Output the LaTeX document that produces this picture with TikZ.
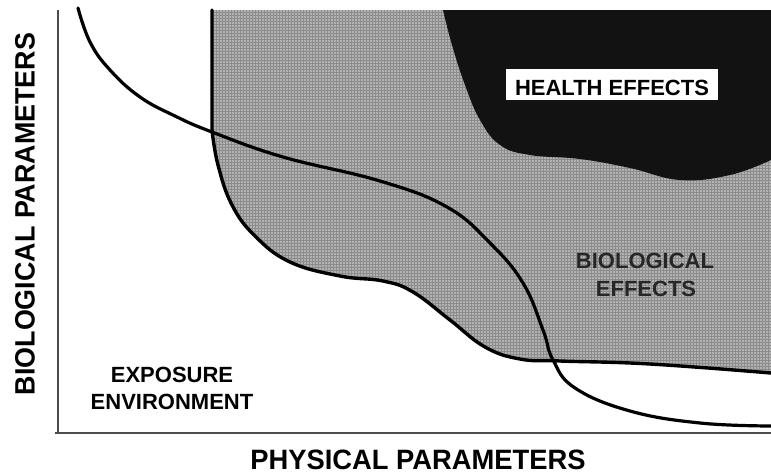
\documentclass[tikz,border=0pt]{standalone}
\usepackage{fontspec}
\setmainfont{Liberation Sans}
\usetikzlibrary{patterns}
\begin{document}
\begin{tikzpicture}[x=1pt,y=-1pt,
  axisline/.style={draw=black!70,line width=1.2pt},
  bioregion/.style={fill=black!30,postaction={pattern=grid,pattern color=black!45}},
  healthregion/.style={fill=black!93},
  edgeline/.style={draw=black,line width=3.4pt,line join=round,line cap=round},
  curveline/.style={draw=black,line width=3.2pt,line cap=round},
  lbl/.style={inner sep=0pt,font=\bfseries\fontsize{22}{24}\selectfont,text=black},
  axislbl/.style={inner sep=0pt,font=\bfseries\fontsize{28}{30}\selectfont,text=black}]
\useasboundingbox[fill=white] (0,0) rectangle (771,474);

% biological effects region
\path[bioregion] (212,10) -- plot[smooth,tension=0.7] coordinates {(212,130) (218,165) (232,205) (255,236) (290,262) (340,276) (383,281) (413,292) (450,320) (485,347) (520,359) (560,361) (650,364) (771,373)} -- (771,10) -- cycle;
% health effects region
\path[healthregion] (443,10) -- plot[smooth,tension=0.7] coordinates {(443,10) (452,45) (465,85) (480,120) (500,145) (530,155) (580,159) (630,168) (680,180) (730,175) (771,160)} -- (771,10) -- cycle;
% boundary of biological effects
\draw[edgeline] (212,10) -- plot[smooth,tension=0.7] coordinates {(212,130) (218,165) (232,205) (255,236) (290,262) (340,276) (383,281) (413,292) (450,320) (485,347) (520,359) (560,361) (650,364) (771,373)};
% exposure environment curve
\draw[curveline] plot[smooth,tension=0.7] coordinates {(78,8) (90,42) (110,70) (140,97) (175,116) (212,132) (283,157) (380,181) (447,207) (490,243) (523,283) (543,330) (553,360) (575,388) (630,411) (700,423) (771,426)};

% axes
\coordinate (ytop) at (58,10);
\coordinate (origin) at (58,433);
\coordinate (xleft) at (55,433);
\coordinate (xend) at (771,433);
\draw[axisline] (ytop) -- (origin);
\draw[axisline] (xleft) -- (xend);

% labels
\node[lbl,fill=white,minimum width=212pt,text height=26.9pt,text depth=4.1pt,inner ysep=0pt] (health) at (612,84.5) {HEALTH EFFECTS};
\node[lbl,text=black!85] (bio1) at (645,261) {BIOLOGICAL};
\node[lbl,text=black!85] (bio2) at (646,288.5) {EFFECTS};
\node[lbl] (exp1) at (172,375) {EXPOSURE};
\node[lbl] (exp2) at (172,402) {ENVIRONMENT};
\node[axislbl] (xlab) at (418,460) {\scalebox{0.977}[1]{PHYSICAL PARAMETERS}};
\node[axislbl,rotate=90] (ylab) at (25,214) {\scalebox{0.96}[1]{BIOLOGICAL PARAMETERS}};
\end{tikzpicture}
\end{document}
